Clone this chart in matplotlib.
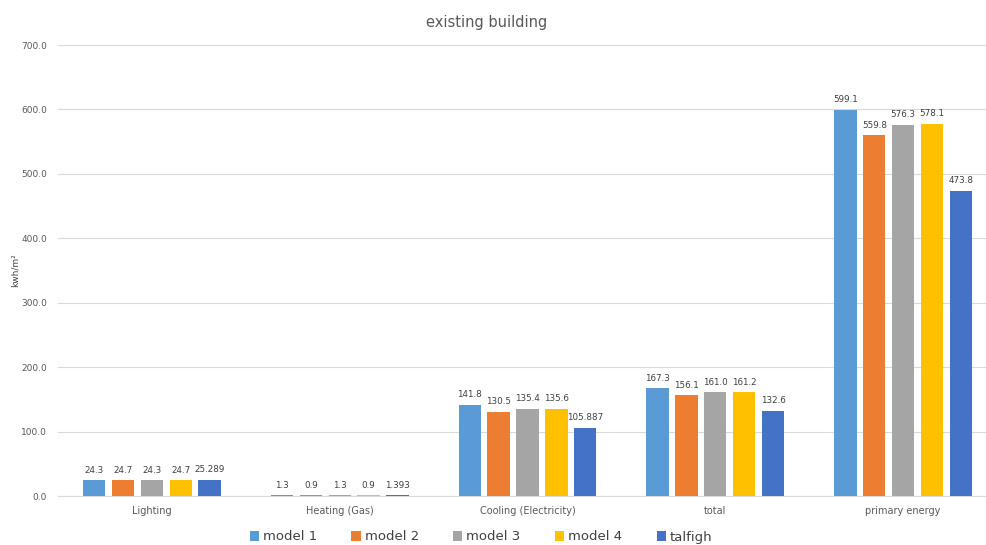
import matplotlib
matplotlib.use("Agg")
import matplotlib.pyplot as plt
import numpy as np
from matplotlib.patches import Patch

categories = ["Lighting", "Heating (Gas)", "Cooling (Electricity)", "total", "primary energy"]
series_names = ["model 1", "model 2", "model 3", "model 4", "talfigh"]
model1 = [24.3, 1.3, 141.8, 167.3, 599.1]
model2 = [24.7, 0.9, 130.5, 156.1, 559.8]
model3 = [24.3, 1.3, 135.4, 161.0, 576.3]
model4 = [24.7, 0.9, 135.6, 161.2, 578.1]
talfigh = [25.289, 1.393, 105.887, 132.6, 473.8]
labels1 = ["24.3", "1.3", "141.8", "167.3", "599.1"]
labels2 = ["24.7", "0.9", "130.5", "156.1", "559.8"]
labels3 = ["24.3", "1.3", "135.4", "161.0", "576.3"]
labels4 = ["24.7", "0.9", "135.6", "161.2", "578.1"]
labels5 = ["25.289", "1.393", "105.887", "132.6", "473.8"]
yticks = [0, 100, 200, 300, 400, 500, 600, 700]

colors = ["#5B9BD5", "#ED7D31", "#A5A5A5", "#FFC000", "#4472C4"]
series = [model1, model2, model3, model4, talfigh]
labels = [labels1, labels2, labels3, labels4, labels5]

W, H = 987, 545
fig = plt.figure(figsize=(W / 100, H / 100), dpi=100)
left, right, top, bottom = 58, 997, 45, 496
ax = fig.add_axes([left / W, (H - bottom) / H, (right - left) / W, (bottom - top) / H])

x = np.arange(len(categories))
step = 0.1535
bw = 0.119
for i, (vals, c, labs) in enumerate(zip(series, colors, labels)):
    pos = x + (i - 2) * step
    ax.bar(pos, vals, width=bw, color=c, zorder=3)
    for p, v, t in zip(pos, vals, labs):
        ax.annotate(t, (p, v), xytext=(0, 4), textcoords="offset points",
                    ha="center", va="bottom", fontsize=6.3, color="#404040")

ax.set_xlim(-0.5, len(categories) - 0.5)
ax.set_ylim(0, 700)
ax.set_yticks(yticks)
ax.set_yticklabels([f"{t:.1f}" for t in yticks])
ax.set_xticks(x)
ax.set_xticklabels(categories)
ax.tick_params(axis="y", length=0, labelsize=6.5, labelcolor="#595959", pad=8)
ax.tick_params(axis="x", length=0, labelsize=7, labelcolor="#595959", pad=7)
ax.grid(axis="y", color="#D9D9D9", linewidth=0.8, zorder=0)
for s in ["top", "right", "left"]:
    ax.spines[s].set_visible(False)
ax.spines["bottom"].set_color("#D9D9D9")
ax.spines["bottom"].set_linewidth(0.8)

fig.text(15 / W, 1 - 270 / H, "kwh/m²", rotation=90, ha="center", va="center",
         fontsize=6.5, color="#404040")
fig.text(487 / W, 1 - 22 / H, "existing building", ha="center", va="center",
         fontsize=10.5, color="#595959")

handles = [Patch(facecolor=c, edgecolor="none") for c in colors]
fig.legend(handles, series_names, loc="center", bbox_to_anchor=(481 / W, 1 - 537 / H),
           ncol=5, frameon=False, fontsize=9.5, handlelength=0.7, handleheight=0.7,
           handletextpad=0.3, columnspacing=2.6, labelcolor="#404040")

fig.savefig("out.png", dpi=100)
